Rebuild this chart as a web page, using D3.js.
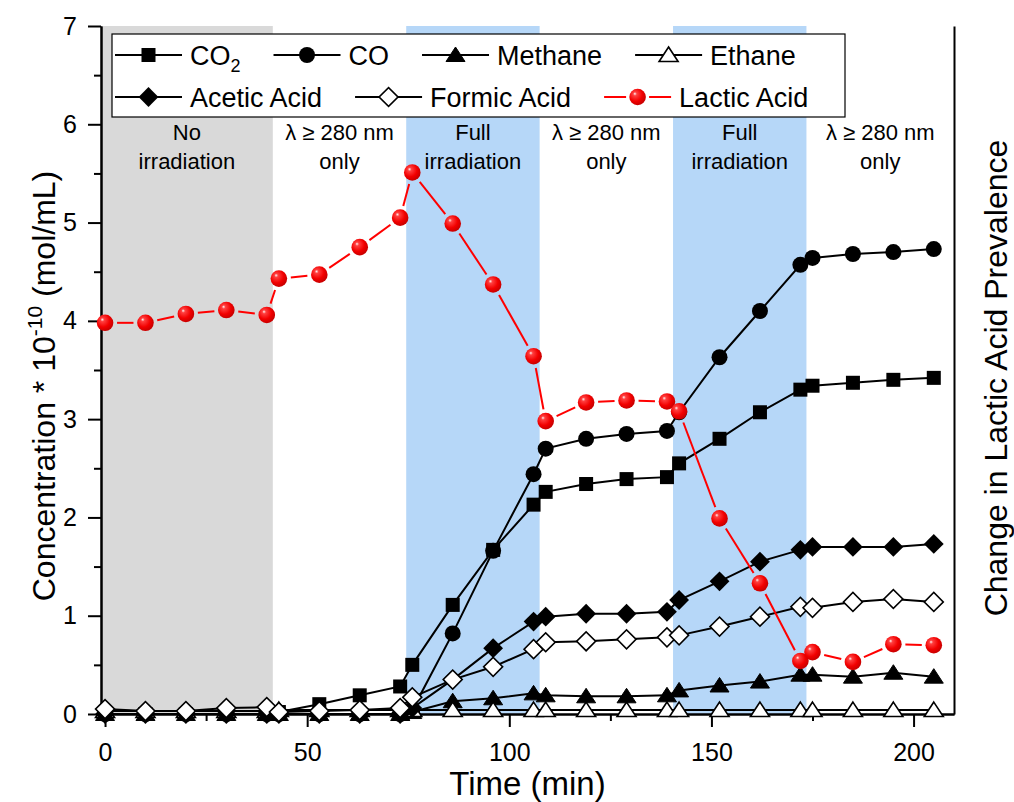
<!DOCTYPE html>
<html>
<head>
<meta charset="utf-8">
<script src="https://cdn.jsdelivr.net/npm/d3@7"></script>
<style>
body { margin: 0; background: #fff; }
text { font-family: "Liberation Sans", Arial, sans-serif; fill: #000; }
</style>
</head>
<body>
<div id="chart"></div>
<script>
// sampling times (min)
var times = [0, 10, 20, 30, 40, 43, 53, 63, 73, 76, 86, 96, 106, 109, 119, 129, 139, 142, 152, 162, 172, 175, 185, 195, 205];

// concentrations * 1e-10 mol/mL
var co2 = [0, 0, 0, 0, 0, 0.02, 0.10, 0.19, 0.28, 0.50, 1.11, 1.67, 2.13, 2.26, 2.34, 2.39, 2.41, 2.55, 2.80, 3.07, 3.30, 3.34, 3.37, 3.40, 3.42];
var co = [0, 0, 0, 0, 0, 0, 0, 0, 0, 0.04, 0.82, 1.66, 2.44, 2.70, 2.80, 2.85, 2.88, 3.07, 3.63, 4.10, 4.57, 4.64, 4.68, 4.70, 4.73];
var methane = [0, 0, 0, 0, 0, 0, 0, 0, 0, 0.02, 0.13, 0.16, 0.21, 0.19, 0.18, 0.18, 0.19, 0.24, 0.29, 0.33, 0.40, 0.40, 0.38, 0.42, 0.38];
var ethane = [0.03, 0.03, 0.03, 0.03, 0.03, 0.04, 0.04, 0.04, 0.04, 0.04, 0.04, 0.04, 0.04, 0.04, 0.04, 0.04, 0.04, 0.04, 0.04, 0.04, 0.04, 0.04, 0.04, 0.04, 0.04];
var acetic = [0, 0, 0, 0, 0, 0, 0, 0, 0, 0.06, 0.35, 0.67, 0.94, 0.99, 1.02, 1.02, 1.04, 1.16, 1.35, 1.55, 1.67, 1.70, 1.70, 1.70, 1.73];
var formic = [0.05, 0.03, 0.03, 0.06, 0.07, 0.02, 0.03, 0.04, 0.06, 0.17, 0.35, 0.48, 0.66, 0.73, 0.74, 0.76, 0.78, 0.80, 0.89, 0.99, 1.09, 1.08, 1.14, 1.17, 1.14];
var lactic = [3.98, 3.98, 4.07, 4.11, 4.06, 4.43, 4.47, 4.75, 5.05, 5.51, 4.99, 4.37, 3.64, 2.98, 3.17, 3.19, 3.18, 3.08, 1.99, 1.33, 0.54, 0.63, 0.53, 0.71, 0.70];

var seriesKeys = ["co2", "co", "methane", "ethane", "acetic", "formic", "lactic"];
var seriesValues = [co2, co, methane, ethane, acetic, formic, lactic];

// irradiation periods
var regionBounds = [-1, 41.5, 74.5, 107.5, 140.5, 173.5, 210];
var regionLight = ["none", "uv", "full", "uv", "full", "uv"];
var regionLine1 = ["No", "λ ≥ 280 nm", "Full", "λ ≥ 280 nm", "Full", "λ ≥ 280 nm"];
var regionLine2 = ["irradiation", "only", "irradiation", "only", "irradiation", "only"];

var xMajor = [0, 50, 100, 150, 200];
var xMinor = [25, 75, 125, 175];
var yMajor = [0, 1, 2, 3, 4, 5, 6, 7];
var yMinor = [0.5, 1.5, 2.5, 3.5, 4.5, 5.5, 6.5];

var legendRows = [["co2", "co", "methane", "ethane"], ["acetic", "formic", "lactic"]];

var lightFill = { none: "#d9d9d9", full: "#b6d7f8", uv: "none" };

var W = 1014, H = 802;
var x = d3.scaleLinear().domain([-1, 210]).range([101, 954]);
var y = d3.scaleLinear().domain([0, 7]).range([714, 26]);

var svg = d3.select("#chart").append("svg")
	.attr("width", W)
	.attr("height", H);

var defs = svg.append("defs");
var grad = defs.append("radialGradient")
	.attr("id", "ball")
	.attr("cx", "40%").attr("cy", "38%").attr("r", "62%")
	.attr("fx", "33%").attr("fy", "30%");
grad.append("stop").attr("offset", "0%").attr("stop-color", "#fff4f4");
grad.append("stop").attr("offset", "18%").attr("stop-color", "#ff4040");
grad.append("stop").attr("offset", "65%").attr("stop-color", "#f20000");
grad.append("stop").attr("offset", "100%").attr("stop-color", "#c80000");

// shaded periods
svg.append("g").selectAll("rect")
	.data(regionLight)
	.join("rect")
	.attr("x", (d, i) => x(regionBounds[i]))
	.attr("y", y(7))
	.attr("width", (d, i) => x(regionBounds[i + 1]) - x(regionBounds[i]))
	.attr("height", y(0) - y(7))
	.attr("fill", d => lightFill[d]);

var labG = svg.append("g").attr("font-size", "22px").attr("text-anchor", "middle");
regionLight.forEach(function(d, i) {
	var cx = (x(regionBounds[i]) + x(regionBounds[i + 1])) / 2;
	labG.append("text").attr("x", cx).attr("y", 140).text(regionLine1[i]);
	labG.append("text").attr("x", cx).attr("y", 169).text(regionLine2[i]);
});

// axes
function styleAxis(g) {
	g.selectAll("path.domain").attr("stroke", "#000").attr("stroke-width", 2);
	g.selectAll(".tick line").attr("stroke", "#000").attr("stroke-width", 2);
	g.selectAll(".tick text").attr("font-family", "Liberation Sans, Arial, sans-serif").attr("font-size", "25px").attr("fill", "#000");
}

svg.append("g")
	.attr("transform", "translate(0," + y(0) + ")")
	.call(d3.axisBottom(x).tickValues(xMinor).tickSize(7).tickSizeOuter(0).tickFormat(""))
	.call(styleAxis);
svg.append("g")
	.attr("transform", "translate(0," + y(0) + ")")
	.call(d3.axisBottom(x).tickValues(xMajor).tickSize(13).tickSizeOuter(0).tickPadding(16).tickFormat(d3.format("d")))
	.call(styleAxis);

svg.append("g")
	.attr("transform", "translate(" + x(-1) + ",0)")
	.call(d3.axisLeft(y).tickValues(yMinor).tickSize(7).tickSizeOuter(0).tickFormat(""))
	.call(styleAxis);
svg.append("g")
	.attr("transform", "translate(" + x(-1) + ",0)")
	.call(d3.axisLeft(y).tickValues(yMajor).tickSize(13).tickSizeOuter(0).tickPadding(11).tickFormat(d3.format("d")))
	.call(styleAxis);

svg.append("g")
	.attr("transform", "translate(" + x(210) + ",0)")
	.call(d3.axisRight(y).tickValues([]).tickSizeOuter(0))
	.call(styleAxis);

// markers
var triPath = "M0,-8L9.5,6.5L-9.5,6.5Z";

function drawMarker(g, key) {
	if (key == "co2") {
		g.append("rect").attr("x", -7).attr("y", -7).attr("width", 14).attr("height", 14).attr("fill", "#000");
	} else if (key == "co") {
		g.append("circle").attr("r", 8).attr("fill", "#000");
	} else if (key == "methane") {
		g.append("path").attr("d", triPath).attr("fill", "#000").attr("stroke", "#000").attr("stroke-width", 1);
	} else if (key == "ethane") {
		g.append("path").attr("d", triPath).attr("fill", "#fff").attr("stroke", "#000").attr("stroke-width", 1.6);
	} else if (key == "acetic") {
		g.append("path").attr("d", d3.symbol(d3.symbolSquare, 196)()).attr("transform", "rotate(45)").attr("fill", "#000");
	} else if (key == "formic") {
		g.append("path").attr("d", d3.symbol(d3.symbolSquare, 180)()).attr("transform", "rotate(45)")
			.attr("fill", "#fff").attr("stroke", "#000").attr("stroke-width", 1.6);
	} else if (key == "lactic") {
		g.append("circle").attr("r", 8.3).attr("fill", "url(#ball)");
	}
}

var line = d3.line().x(d => x(d[0])).y(d => y(d[1]));

seriesKeys.forEach(function(key, si) {
	var pts = times.map((t, i) => [t, seriesValues[si][i]]);
	var g = svg.append("g").attr("class", "series-" + key);
	if (key == "lactic") {
		// line with a small gap before each ball
		var gap = 12;
		for (var i = 0; i < pts.length - 1; i++) {
			var x0 = x(pts[i][0]), y0 = y(pts[i][1]);
			var x1 = x(pts[i + 1][0]), y1 = y(pts[i + 1][1]);
			var len = Math.hypot(x1 - x0, y1 - y0);
			if (len <= 2 * gap) continue;
			var ux = (x1 - x0) / len, uy = (y1 - y0) / len;
			g.append("line")
				.attr("x1", x0 + ux * gap).attr("y1", y0 + uy * gap)
				.attr("x2", x1 - ux * gap).attr("y2", y1 - uy * gap)
				.attr("stroke", "#ff0000").attr("stroke-width", 2);
		}
	} else {
		g.append("path")
			.attr("d", line(pts))
			.attr("fill", "none")
			.attr("stroke", "#000")
			.attr("stroke-width", 2);
	}
	g.selectAll("g.pt")
		.data(pts)
		.join("g")
		.attr("class", "pt")
		.attr("transform", d => "translate(" + x(d[0]) + "," + y(d[1]) + ")")
		.each(function() { drawMarker(d3.select(this), key); });
});

// legend
var legend = svg.append("g");
legend.append("rect")
	.attr("x", 112).attr("y", 34)
	.attr("width", 733).attr("height", 83)
	.attr("fill", "#fff").attr("stroke", "#000").attr("stroke-width", 1.2);

var rowY = [55, 97];
legendRows.forEach(function(row, r) {
	var lx = 115;
	row.forEach(function(key) {
		var item = legend.append("g").attr("transform", "translate(" + lx + "," + rowY[r] + ")");
		var col = key == "lactic" ? "#ff0000" : "#000";
		if (key == "lactic") {
			item.append("line").attr("x1", 0).attr("x2", 22).attr("stroke", col).attr("stroke-width", 2);
			item.append("line").attr("x1", 45).attr("x2", 67).attr("stroke", col).attr("stroke-width", 2);
		} else {
			item.append("line").attr("x1", 0).attr("x2", 67).attr("stroke", col).attr("stroke-width", 2);
		}
		drawMarker(item.append("g").attr("transform", "translate(33.5,0)"), key);
		var t = item.append("text").attr("x", 75).attr("y", 10).attr("font-size", "27px");
		if (key == "co2") {
			t.append("tspan").text("CO");
			t.append("tspan").attr("font-size", "18px").attr("dy", 7).text("2");
		} else {
			t.text({ co: "CO", methane: "Methane", ethane: "Ethane", acetic: "Acetic Acid", formic: "Formic Acid", lactic: "Lactic Acid" }[key]);
		}
		lx += 75 + t.node().getComputedTextLength() + 33;
	});
});

// axis titles
svg.append("text")
	.attr("x", (x(-1) + x(210)) / 2).attr("y", 795)
	.attr("text-anchor", "middle").attr("font-size", "33px")
	.text("Time (min)");

var yt = svg.append("text")
	.attr("transform", "translate(55,386) rotate(-90)")
	.attr("text-anchor", "middle").attr("font-size", "32px");
yt.append("tspan").text("Concentration * 10");
yt.append("tspan").attr("font-size", "21px").attr("dy", -13).text("-10");
yt.append("tspan").attr("dy", 13).text(" (mol/mL)");

svg.append("text")
	.attr("transform", "translate(1007,378) rotate(-90)")
	.attr("text-anchor", "middle").attr("font-size", "32px")
	.text("Change in Lactic Acid Prevalence");
</script>
</body>
</html>
